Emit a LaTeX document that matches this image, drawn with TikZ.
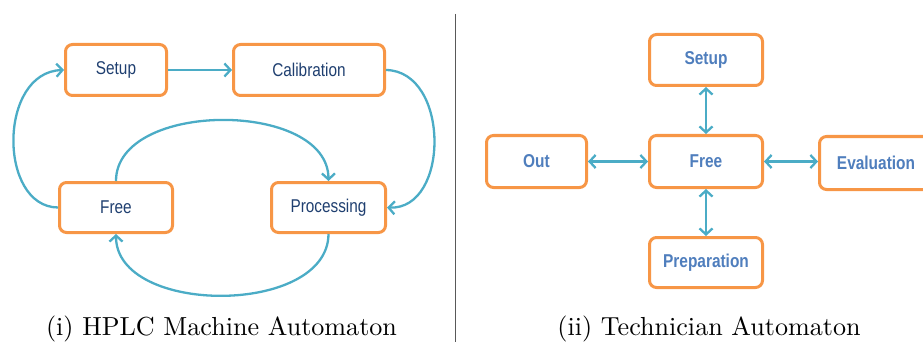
\documentclass[tikz,border=0pt]{standalone}
\usepackage{fontspec}
\newfontfamily\boxfont[FakeStretch=0.83]{Liberation Sans}
\usetikzlibrary{arrows.meta}
\definecolor{boxorange}{HTML}{F79646}
\definecolor{arrteal}{HTML}{4BACC6}
\definecolor{navytext}{HTML}{1F3F70}
\definecolor{bluetext}{HTML}{4F7EBD}
\tikzset{
  statebox/.style={draw=boxorange, line width=3pt, rounded corners=7pt, fill=white,
    inner sep=0pt, minimum height=51pt},
  leftstate/.style={statebox, font=\boxfont\fontsize{18.5}{20}\selectfont, text=navytext},
  rightstate/.style={statebox, font=\boxfont\bfseries\fontsize{18.6}{20}\selectfont, text=bluetext},
  conn/.style={draw=arrteal, line width=2.3pt, -{Straight Barb[length=6pt,width=13pt]}},
  dconn/.style={draw=arrteal, line width=2.3pt, {Straight Barb[length=6pt,width=13pt]}-{Straight Barb[length=6pt,width=13pt]}},
  caption/.style={anchor=base, inner sep=0pt}
}
\begin{document}
\begin{tikzpicture}[x=1pt,y=-1pt]
\useasboundingbox (0,0) rectangle (923,342);
% left panel
\node[leftstate, minimum width=101pt] (lsetup) at (116,70) {Setup};
\node[leftstate, minimum width=151pt] (lcal) at (309,70) {Calibration};
\node[leftstate, minimum width=113pt, minimum height=50pt] (lfree) at (116,207.5) {Free};
\node[leftstate, minimum width=114pt, minimum height=50pt] (lproc) at (328.5,207.5) {Processing};
\draw[conn] (lsetup) -- (lcal);
\draw[conn] (lfree.west) .. controls (-2,207) and (-2,72) .. (lsetup.west);
\draw[conn] (lcal.east) .. controls (450,71) and (450,210) .. (lproc.east);
\draw[conn] (lfree.north) .. controls (116,100) and (328,100) .. (lproc.north);
\draw[conn] (lproc.south) .. controls (328,316) and (116,316) .. (lfree.south);
% separator
\coordinate (septop) at (455.7,14);
\coordinate (sepbot) at (455.7,342);
\draw[black!65, line width=1.4pt] (septop) -- (sepbot);
% right panel
\node[rightstate, minimum width=113pt] (rsetup) at (706,60) {Setup};
\node[rightstate, minimum width=113pt, minimum height=52pt] (rfree) at (706,161.5) {Free};
\node[rightstate, minimum width=100pt, minimum height=52pt] (rout) at (536.5,161.5) {Out};
\node[rightstate, minimum width=113pt, minimum height=53pt] (reval) at (876,163) {Evaluation};
\node[rightstate, minimum width=113pt, minimum height=50pt] (rprep) at (706,262.5) {Preparation};
\draw[dconn] (rsetup) -- (rfree);
\draw[dconn] (rout) -- (rfree);
\draw[dconn] (rfree.east) -- (reval.west |- rfree.east);
\draw[dconn] (rfree) -- (rprep);
% captions
\node[caption] (capi) at (221.5,335) {\scalebox{2.61}{(i) HPLC Machine Automaton}};
\node[caption] (capii) at (709,335) {\scalebox{2.61}{(ii) Technician Automaton}};
\end{tikzpicture}
\end{document}
